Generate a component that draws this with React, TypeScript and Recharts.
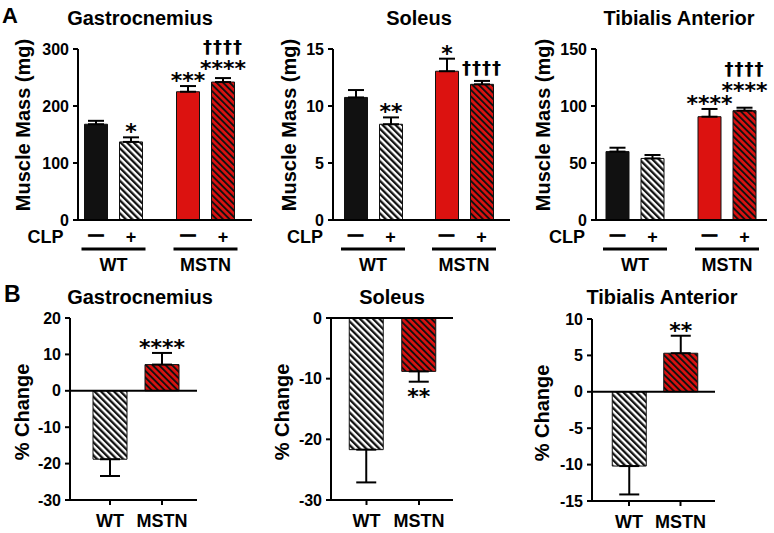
import { BarChart, Bar, XAxis, YAxis, ErrorBar, Cell, LabelList, ReferenceLine } from 'recharts';

// ---- data ----
const groups = ['WT', 'MSTN'];
const clpLevels = ['—', '+'];

// panel A, bar order: WT −, WT +, MSTN −, MSTN +
const gastroMass = [168, 137, 225, 242];
const gastroMassErr = [6, 8, 10, 7];
const gastroMassStars = ['', '*', '***', '****'];
const gastroMassDaggers = ['', '', '', '††††'];

const soleusMass = [10.75, 8.4, 13.05, 11.9];
const soleusMassErr = [0.65, 0.6, 1.1, 0.3];
const soleusMassStars = ['', '**', '*', ''];
const soleusMassDaggers = ['', '', '', '††††'];

const tibialisMass = [60, 54, 90.6, 95.9];
const tibialisMassErr = [3.4, 3, 6.8, 2.6];
const tibialisMassStars = ['', '', '****', '****'];
const tibialisMassDaggers = ['', '', '', '††††'];

// panel B, % change after CLP: WT, MSTN
const gastroChange = [-18.8, 7.2];
const gastroChangeErr = [4.6, 3.2];
const gastroChangeStars = ['', '****'];

const soleusChange = [-21.7, -8.8];
const soleusChangeErr = [5.4, 1.7];
const soleusChangeStars = ['', '**'];

const tibialisChange = [-10.2, 5.3];
const tibialisChangeErr = [3.9, 2.4];
const tibialisChangeStars = ['', '**'];

// ---- styles ----
const BLACK = '#111111';
const RED = '#dc1210';
const FONT = '"Liberation Sans", Arial, Helvetica, sans-serif';
const SYM_FONT = '"DejaVu Sans", sans-serif';
const MASS_BAR = 23;
const MASS_GAP = 12;
const HATCH = 4.6;

const massFills = [BLACK, 'url(#hatchW)', RED, 'url(#hatchR)'];
const changeFills = ['url(#hatchW)', 'url(#hatchR)'];

const errPair = (m: number, e: number) => (m >= 0 ? [0, e] : [e, 0]);

const massPanels = [
  {
    title: 'Gastrocnemius', mean: gastroMass, err: gastroMassErr, stars: gastroMassStars,
    daggers: gastroMassDaggers, lift: [0, 0, 0, 4], domain: [0, 300], ticks: [0, 100, 200, 300],
    left: 0, width: 260, yW: 78, mr: 8, padL: -10.5, padR: 0.5, labelX: 30, titleX: 140,
  },
  {
    title: 'Soleus', mean: soleusMass, err: soleusMassErr, stars: soleusMassStars,
    daggers: soleusMassDaggers, lift: [0, 0, 0, 0], domain: [0, 15], ticks: [0, 5, 10, 15],
    left: 260, width: 255, yW: 73, mr: 5, padL: -5.5, padR: 0.5, labelX: 36, titleX: 419,
  },
  {
    title: 'Tibialis Anterior', mean: tibialisMass, err: tibialisMassErr, stars: tibialisMassStars,
    daggers: tibialisMassDaggers, lift: [0, 0, 0, 12], domain: [0, 150], ticks: [0, 50, 100, 150],
    left: 515, width: 259, yW: 81, mr: 7, padL: -7, padR: -6, labelX: 35, titleX: 679,
  },
];

const changePanels = [
  {
    title: 'Gastrocnemius', mean: gastroChange, err: gastroChangeErr, stars: gastroChangeStars,
    domain: [-30, 20], ticks: [-30, -20, -10, 0, 10, 20],
    left: 0, width: 210, yW: 70, mr: 13, mt: 13, padL: 14, padR: 9, labelX: 29, titleX: 140,
  },
  {
    title: 'Soleus', mean: soleusChange, err: soleusChangeErr, stars: soleusChangeStars,
    domain: [-30, 0], ticks: [-30, -20, -10, 0],
    left: 260, width: 200, yW: 71, mr: 7, mt: 13, padL: 9.25, padR: 7.75, labelX: 29, titleX: 392,
  },
  {
    title: 'Tibialis Anterior', mean: tibialisChange, err: tibialisChangeErr, stars: tibialisChangeStars,
    domain: [-15, 10], ticks: [-15, -10, -5, 0, 5, 10],
    left: 515, width: 210, yW: 77, mr: 10, mt: 14, padL: 11.25, padR: 8.75, labelX: 34, titleX: 662,
  },
];

// significance marks sit above (or below) the error bar, sized from the bar's own scale
const sigLabel = (p: any, pick: (i: number) => number) => (props: any) => {
  const k = pick(props.index);
  const stars = p.stars[k] || '';
  const daggers = (p.daggers && p.daggers[k]) || '';
  if (!stars && !daggers) return null;
  const vb = props.viewBox || props;
  const { x, y, width, height } = vb;
  const m = p.mean[k];
  const top = Math.min(y, y + height);
  const bottom = Math.max(y, y + height);
  const ppu = (bottom - top) / Math.abs(m);
  const cx = x + width / 2;
  const lift = (p.lift && p.lift[k]) || 0;
  const out = [];
  if (m >= 0) {
    let edge = top - p.err[k] * ppu - 5 - lift;
    if (stars) {
      out.push(
        <text key="s" x={cx} y={edge + 7} textAnchor="middle" fontSize={22} fontWeight={700} fontFamily={SYM_FONT} fill="#000">
          {stars}
        </text>
      );
      edge -= 14;
    }
    if (daggers) {
      out.push(
        <text key="d" x={cx} y={edge - 2} textAnchor="middle" fontSize={18} fontWeight={700} fontFamily={SYM_FONT} fill="#000" letterSpacing={1}>
          {daggers}
        </text>
      );
    }
  } else {
    const edge = bottom + p.err[k] * ppu + 6;
    out.push(
      <text key="s" x={cx} y={edge + 16} textAnchor="middle" fontSize={22} fontWeight={700} fontFamily={SYM_FONT} fill="#000">
        {stars}
      </text>
    );
  }
  return <g>{out}</g>;
};

const yTitle = (text: string, x: number, y: number) => () => (
  <text x={x} y={y} transform={`rotate(-90 ${x} ${y})`} textAnchor="middle" fontSize={20} fontWeight={700} fill="#000">
    {text}
  </text>
);

const GroupTick = (props: any) => {
  const { x, y, payload, index } = props;
  const half = (MASS_BAR + MASS_GAP) / 2;
  return (
    <g fontWeight={700} fill="#000">
      {index === 0 && (
        <text x={x - 50} y={y + 23} textAnchor="end" fontSize={18}>CLP</text>
      )}
      {clpLevels.map((lv, j) => (
        <text key={lv} x={x + (j === 0 ? -half : half)} y={y + (j === 0 ? 20 : 23)} textAnchor="middle"
          fontSize={j === 0 ? 15 : 18} stroke={j === 0 ? '#000' : 'none'} strokeWidth={j === 0 ? 1 : 0}>
          {lv}
        </text>
      ))}
      <line x1={x - 32} x2={x + 32} y1={y + 29} y2={y + 29} stroke="#000" strokeWidth={3} />
      <text x={x} y={y + 51} textAnchor="middle" fontSize={18}>{payload.value}</text>
    </g>
  );
};

const NameTick = (props: any) => {
  const { x, y, payload } = props;
  return (
    <text x={x} y={y + 22} textAnchor="middle" fontSize={18} fontWeight={700} fill="#000">
      {payload.value}
    </text>
  );
};

const axisLine = { stroke: '#000', strokeWidth: 2 };
const yTick = { fill: '#000', fontSize: 16, fontWeight: 700 };

const MassChart = ({ p }: any) => {
  const rows = groups.map((g, i) => ({
    group: g,
    minus: p.mean[2 * i],
    plus: p.mean[2 * i + 1],
    minusErr: errPair(p.mean[2 * i], p.err[2 * i]),
    plusErr: errPair(p.mean[2 * i + 1], p.err[2 * i + 1]),
  }));
  const mt = 19;
  const plotH = 171;
  return (
    <div style={{ position: 'absolute', left: p.left, top: 30 }}>
      <BarChart width={p.width} height={255} data={rows} margin={{ top: mt, right: p.mr, bottom: 0, left: 0 }} barSize={MASS_BAR} barGap={MASS_GAP}>
        <XAxis dataKey="group" type="category" padding={{ left: p.padL, right: p.padR }} axisLine={axisLine}
          tickLine={false} tickSize={0} tickMargin={0} height={65} interval={0} tick={(t: any) => <GroupTick {...t} />} />
        <YAxis type="number" domain={p.domain} ticks={p.ticks} interval={0} width={p.yW} axisLine={axisLine}
          tickLine={axisLine} tickSize={5} tickMargin={4} tick={yTick}
          label={yTitle('Muscle Mass (mg)', p.labelX, mt + plotH / 2 - 9.5)} />
        <Bar dataKey="minus" stroke={BLACK} strokeWidth={1} isAnimationActive={false}>
          {rows.map((_, i) => <Cell key={i} fill={massFills[2 * i]} />)}
          <ErrorBar dataKey="minusErr" direction="y" width={8} stroke="#000" strokeWidth={2} isAnimationActive={false} />
          <LabelList dataKey="minus" content={sigLabel(p, (i) => 2 * i)} />
        </Bar>
        <Bar dataKey="plus" stroke={BLACK} strokeWidth={1} isAnimationActive={false}>
          {rows.map((_, i) => <Cell key={i} fill={massFills[2 * i + 1]} />)}
          <ErrorBar dataKey="plusErr" direction="y" width={8} stroke="#000" strokeWidth={2} isAnimationActive={false} />
          <LabelList dataKey="plus" content={sigLabel(p, (i) => 2 * i + 1)} />
        </Bar>
      </BarChart>
    </div>
  );
};

const ChangeChart = ({ p }: any) => {
  const rows = groups.map((g, i) => ({ group: g, change: p.mean[i], changeErr: errPair(p.mean[i], p.err[i]) }));
  const plotH = 182;
  return (
    <div style={{ position: 'absolute', left: p.left, top: 305 }}>
      <BarChart width={p.width} height={228} data={rows} margin={{ top: p.mt, right: p.mr, bottom: 0, left: 0 }} barSize={34}>
        <XAxis dataKey="group" type="category" padding={{ left: p.padL, right: p.padR }} axisLine={axisLine}
          tickLine={axisLine} tickSize={5} tickMargin={0} height={228 - p.mt - plotH} interval={0} tick={(t: any) => <NameTick {...t} />} />
        <YAxis type="number" domain={p.domain} ticks={p.ticks} interval={0} width={p.yW} axisLine={axisLine}
          tickLine={axisLine} tickSize={5} tickMargin={4} tick={yTick}
          label={yTitle('% Change', p.labelX, p.mt + plotH / 2 + 3)} />
        <ReferenceLine y={0} stroke="#000" strokeWidth={2} />
        <Bar dataKey="change" stroke={BLACK} strokeWidth={1} isAnimationActive={false}>
          {rows.map((_, i) => <Cell key={i} fill={changeFills[i]} />)}
          <ErrorBar dataKey="changeErr" direction="y" width={10} stroke="#000" strokeWidth={2} isAnimationActive={false} />
          <LabelList dataKey="change" content={sigLabel(p, (i) => i)} />
        </Bar>
      </BarChart>
    </div>
  );
};

export default function App() {
  return (
    <div style={{ position: 'absolute', left: 0, top: 0, width: 774, height: 533, background: '#fff', fontFamily: FONT, overflow: 'hidden' }}>
      <svg width={0} height={0} style={{ position: 'absolute' }}>
        <defs>
          <pattern id="hatchW" patternUnits="userSpaceOnUse" width={HATCH} height={HATCH} patternTransform="rotate(-45)">
            <rect width={HATCH} height={HATCH} fill="#fff" />
            <rect width={HATCH / 2} height={HATCH} fill={BLACK} />
          </pattern>
          <pattern id="hatchR" patternUnits="userSpaceOnUse" width={HATCH} height={HATCH} patternTransform="rotate(-45)">
            <rect width={HATCH} height={HATCH} fill={RED} />
            <rect width={HATCH * 0.42} height={HATCH} fill={BLACK} />
          </pattern>
        </defs>
      </svg>
      {massPanels.map((p) => <MassChart key={p.title} p={p} />)}
      {changePanels.map((p) => <ChangeChart key={p.title} p={p} />)}
      <svg width={774} height={533} style={{ position: 'absolute', left: 0, top: 0, pointerEvents: 'none' }}>
        <g fontWeight={700} fill="#000">
          <text x={2} y={23} fontSize={22}>A</text>
          <text x={4} y={302} fontSize={23}>B</text>
          {massPanels.map((p) => (
            <text key={p.title} x={p.titleX} y={25} textAnchor="middle" fontSize={20}>{p.title}</text>
          ))}
          {changePanels.map((p) => (
            <text key={p.title} x={p.titleX} y={304} textAnchor="middle" fontSize={20}>{p.title}</text>
          ))}
        </g>
      </svg>
    </div>
  );
}
